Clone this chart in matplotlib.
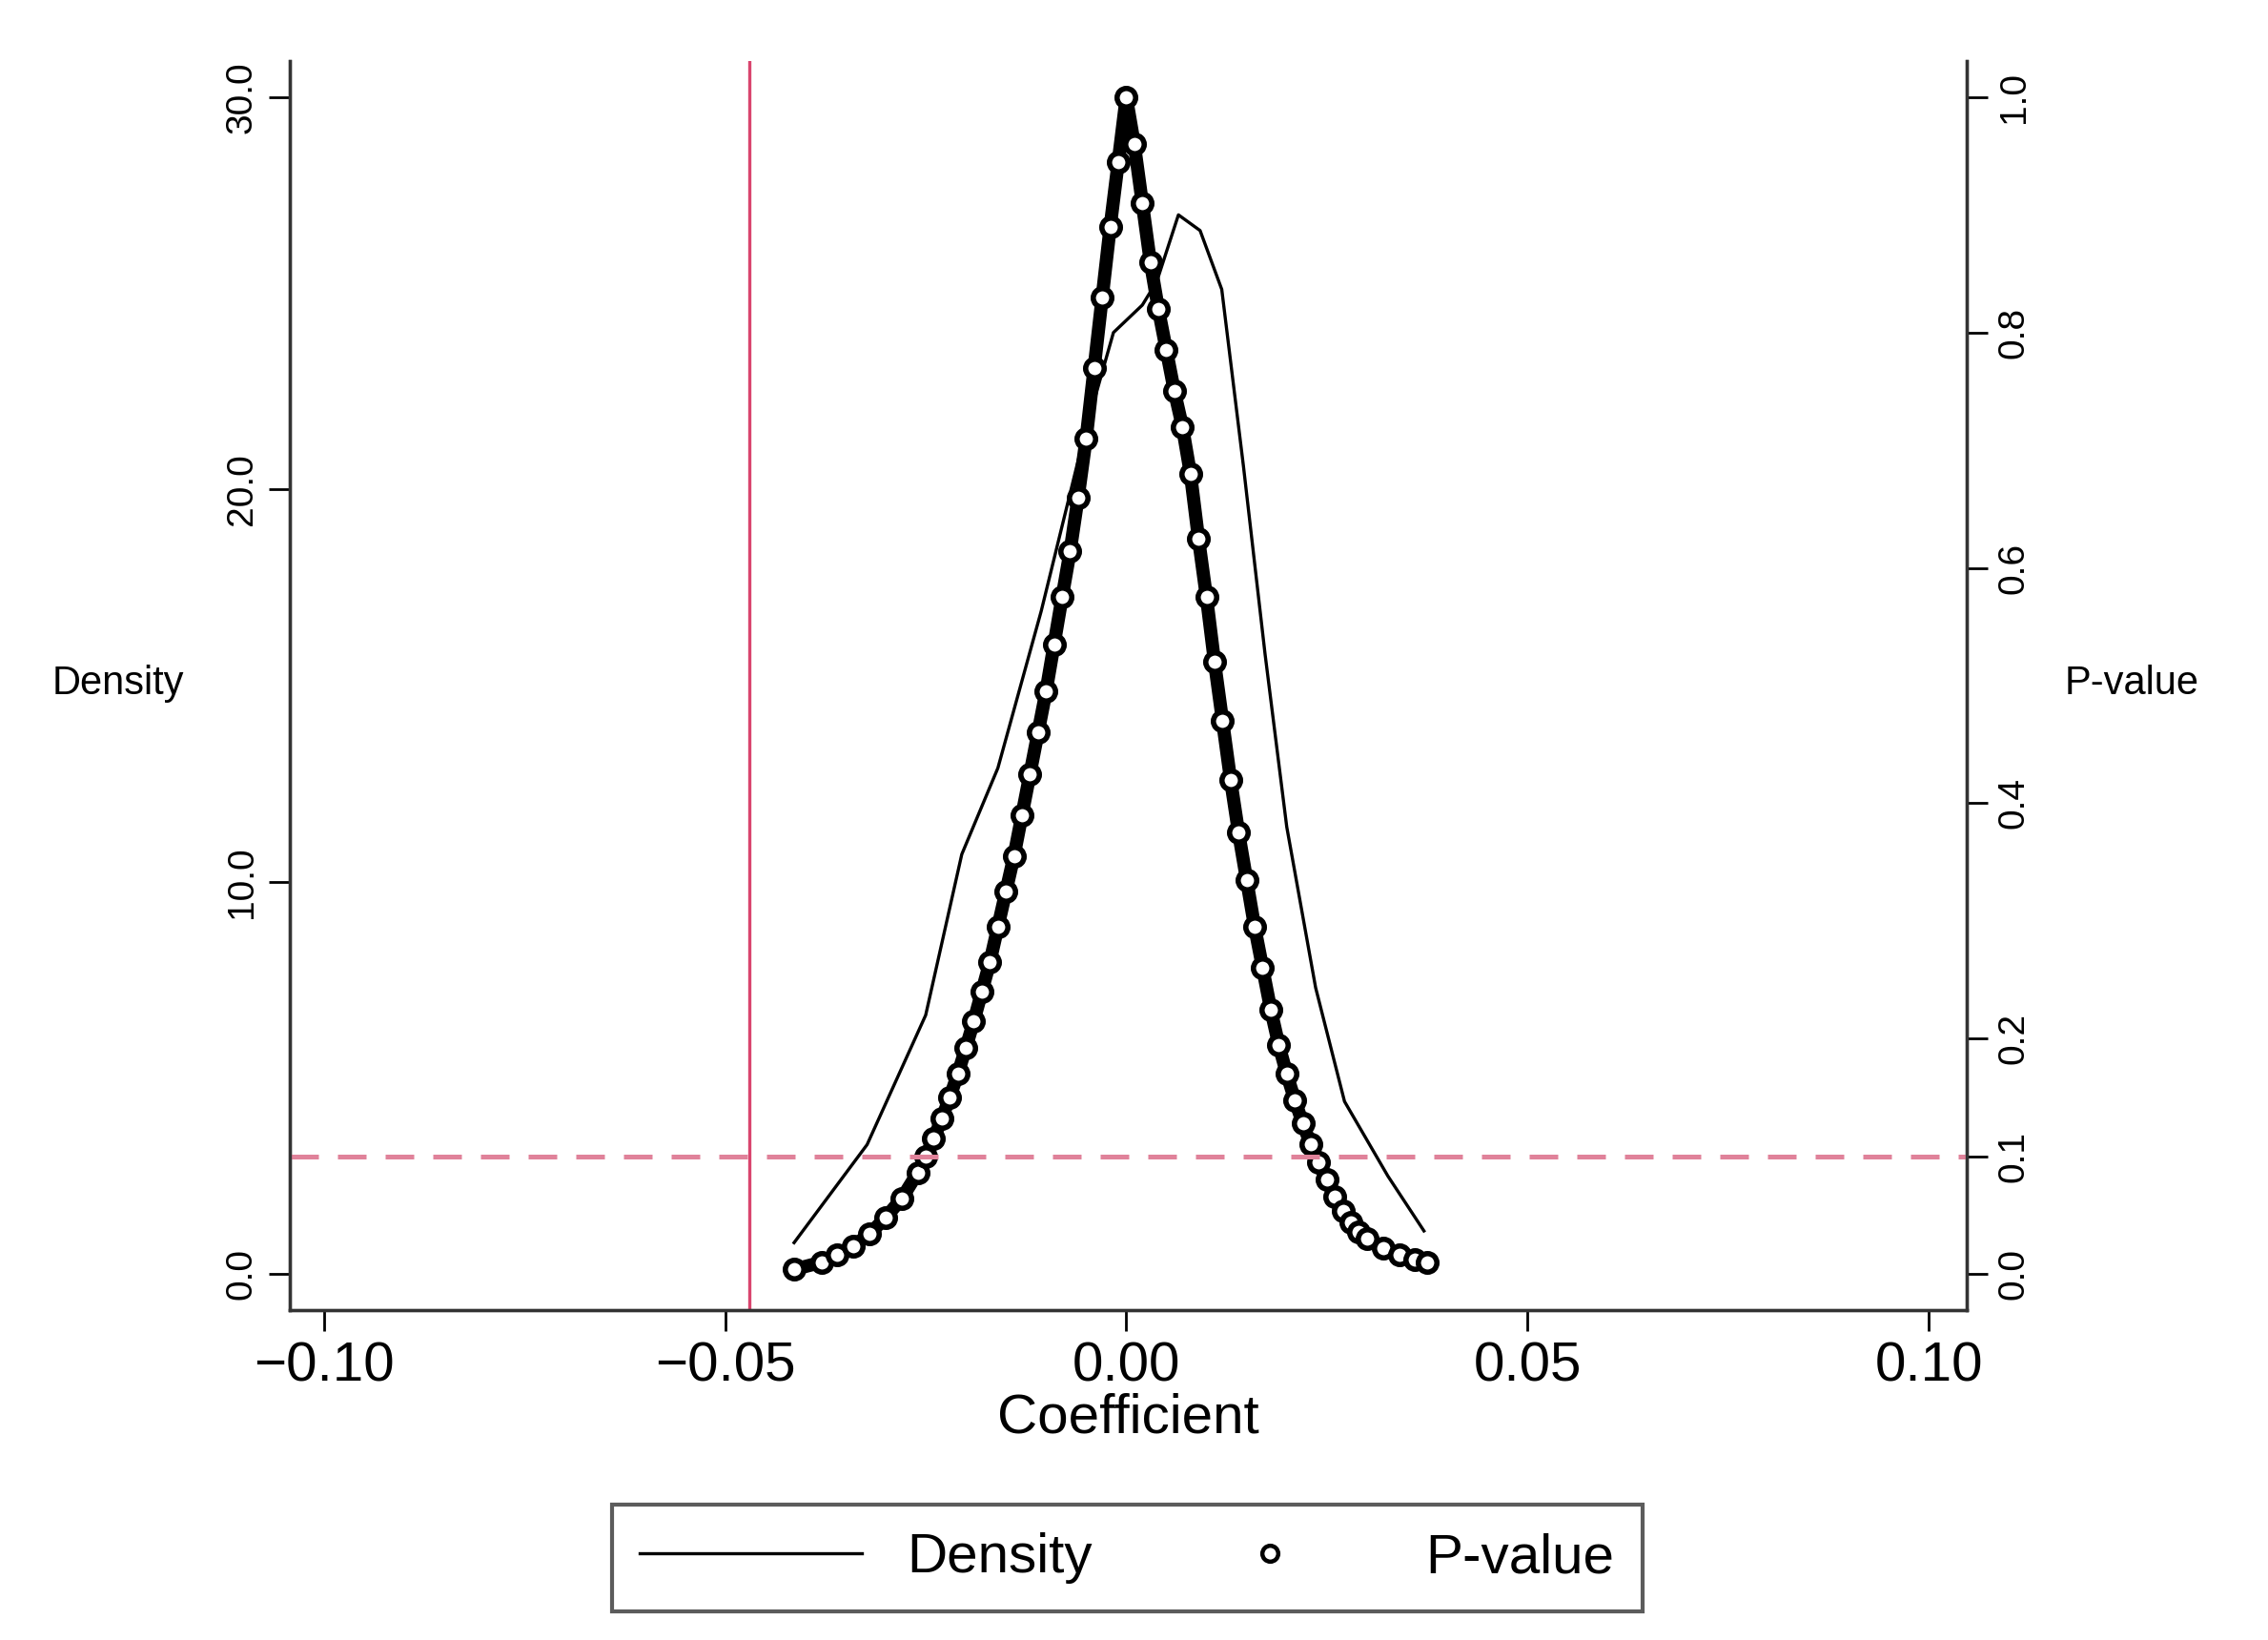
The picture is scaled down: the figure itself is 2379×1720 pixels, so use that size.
import matplotlib
matplotlib.use("Agg")
import matplotlib.pyplot as plt
from matplotlib.lines import Line2D

dens_x = [-0.0414,-0.0323,-0.025,-0.0205,-0.016,-0.0106,-0.0052,-0.0016,0.002,0.0038,
          0.0065,0.0092,0.0119,0.0146,0.0173,0.020,0.0236,0.0272,0.0326,0.0371]
dens_y = [0.8,3.3,6.6,10.7,12.9,16.9,21.4,24.0,24.7,25.3,27.0,26.6,25.1,20.6,15.8,11.4,7.3,4.4,2.5,1.1]

p_x = [-0.0414,-0.038,-0.036,-0.034,-0.032,-0.030,-0.028,-0.026,-0.025,-0.024,-0.023,-0.022,-0.021,
       -0.020,-0.019,-0.018,-0.017,-0.016,-0.015,-0.014,-0.013,-0.012,-0.011,-0.010,-0.009,-0.008,
       -0.007,-0.006,-0.005,-0.004,-0.003,-0.002,-0.001,0.000,
       0.001,0.002,0.003,0.004,0.005,0.006,0.007,0.008,0.009,0.010,0.011,0.012,0.013,0.014,0.015,
       0.016,0.017,0.018,0.019,0.020,0.021,0.022,0.023,0.024,0.025,0.026,0.027,0.028,0.029,0.030,
       0.032,0.034,0.036,0.0375]
p_y = [0.004,0.010,0.016,0.024,0.034,0.048,0.064,0.086,0.100,0.115,0.132,0.150,0.170,
       0.192,0.215,0.240,0.265,0.295,0.325,0.355,0.390,0.425,0.460,0.495,0.535,0.575,
       0.614,0.660,0.710,0.770,0.830,0.890,0.945,1.000,
       0.960,0.910,0.860,0.820,0.785,0.750,0.720,0.680,0.625,0.575,0.520,0.470,0.420,0.375,0.335,
       0.295,0.260,0.225,0.195,0.170,0.148,0.128,0.110,0.095,0.080,0.066,0.054,0.044,0.036,0.030,
       0.022,0.016,0.012,0.010]

x_ticks = [-0.10,-0.05,0.00,0.05,0.10]
x_labels = ["\u22120.10","\u22120.05","0.00","0.05","0.10"]
yl_ticks = [0,10,20,30]
yr_ticks = [0,0.1,0.2,0.4,0.6,0.8,1.0]
vline_x = -0.047
hline_p = 0.1

plt.rcParams['font.family'] = ['Liberation Sans', 'DejaVu Sans']
fig = plt.figure(figsize=(11.895, 8.6), dpi=200)
ax = fig.add_axes([0.1276, 0.201, 0.7394, 0.762])
ax2 = ax.twinx()

ax.plot(dens_x, dens_y, color='black', lw=1.2)
ax.set_xlim(-0.1043, 0.1047)
ax.set_ylim(-0.925, 30.93)
ax2.set_ylim(-0.925/30, 30.93/30)
ax2.plot(p_x, p_y, color='black', lw=5, solid_capstyle='round')
ax2.plot(p_x, p_y, 'o', mfc='white', mec='black', ms=7, mew=2, ls='none')
ax2.axhline(hline_p, color='#e0829a', lw=1.8, ls=(0, (6, 4)))
ax.axvline(vline_x, color='#d9456e', lw=1.2)

for a in (ax, ax2):
    a.spines['top'].set_visible(False)
    for s in a.spines.values():
        s.set_linewidth(1.2); s.set_color('#333333')
ax.set_xticks(x_ticks); ax.set_xticklabels(x_labels, fontsize=21)
ax.set_yticks(yl_ticks); ax.set_yticklabels([f"{v:.1f}" for v in yl_ticks], fontsize=14, rotation=90, va='center')
ax2.set_yticks(yr_ticks); ax2.set_yticklabels([f"{v:.1f}" for v in yr_ticks], fontsize=14, rotation=90, va='center')
ax.tick_params(length=8, width=1)
ax2.tick_params(length=8, width=1)
ax.set_xlabel("Coefficient", fontsize=21, labelpad=0)
fig.text(0.052, 0.583, "Density", fontsize=15, ha='center', va='center')
fig.text(0.94, 0.583, "P-value", fontsize=15, ha='center', va='center')

handles = [Line2D([], [], color='black', lw=1.2),
           Line2D([], [], marker='o', ls='none', mfc='white', mec='black', ms=6, mew=1.6)]
leg = fig.legend(handles, ["Density", "P-value"], loc='center', bbox_to_anchor=(0.497, 0.05),
                 ncol=2, fontsize=21, frameon=True, fancybox=False, edgecolor='#333333',
                 handlelength=4, handletextpad=0.8, columnspacing=1.2, borderpad=0.5)
leg.get_frame().set_linewidth(1.5)
fig.savefig("out.png", dpi=200)
